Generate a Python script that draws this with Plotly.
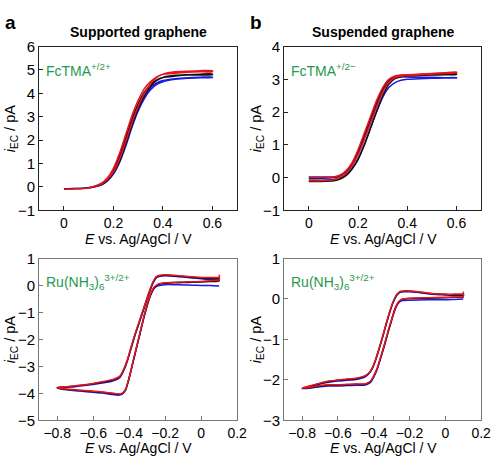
import plotly.graph_objects as go

# ---------------- data ----------------
# Panel a (top): supported graphene, FcTMA
E_a = [0, 0.05, 0.1, 0.15, 0.175, 0.2, 0.225, 0.25, 0.275, 0.3, 0.325, 0.35, 0.375, 0.4, 0.45, 0.5, 0.55, 0.6]
a_red_fwd = [-0.1, -0.08, -0.05, 0.12, 0.32, 0.65, 1.2, 1.95, 2.75, 3.45, 4.0, 4.4, 4.68, 4.82, 4.92, 4.95, 4.97, 4.97]
a_red_rev = [4.93, 4.92, 4.9, 4.86, 4.82, 4.7, 4.5, 4.2, 3.7, 3.05, 2.25, 1.45, 0.8, 0.38, 0.15, -0.04, -0.08, -0.1]
a_blk_fwd = [-0.08, -0.07, -0.04, 0.1, 0.28, 0.6, 1.1, 1.85, 2.65, 3.35, 3.9, 4.3, 4.55, 4.68, 4.77, 4.8, 4.82, 4.83]
a_blk_rev = [4.8, 4.79, 4.78, 4.74, 4.68, 4.58, 4.38, 4.05, 3.55, 2.9, 2.1, 1.35, 0.72, 0.33, 0.12, -0.03, -0.07, -0.08]
a_blu_fwd = [-0.08, -0.07, -0.04, 0.08, 0.25, 0.55, 1.05, 1.75, 2.55, 3.25, 3.78, 4.15, 4.38, 4.5, 4.6, 4.65, 4.67, 4.68]
a_blu_rev = [4.7, 4.69, 4.67, 4.63, 4.55, 4.45, 4.25, 3.9, 3.4, 2.75, 2.0, 1.25, 0.65, 0.3, 0.1, -0.03, -0.07, -0.08]

# Panel b (top): suspended graphene, FcTMA
E_b = [0, 0.05, 0.1, 0.125, 0.15, 0.175, 0.2, 0.225, 0.25, 0.275, 0.3, 0.325, 0.35, 0.375, 0.4, 0.45, 0.5, 0.55, 0.6]
b_red_fwd = [-0.1, -0.1, -0.07, 0.0, 0.12, 0.35, 0.7, 1.15, 1.65, 2.15, 2.6, 2.9, 3.05, 3.1, 3.12, 3.14, 3.16, 3.18, 3.2]
b_red_rev = [3.22, 3.2, 3.18, 3.16, 3.14, 3.13, 3.1, 3.0, 2.75, 2.35, 1.85, 1.35, 0.85, 0.45, 0.2, 0.07, 0.02, 0.0, 0.0]
b_blk_fwd = [-0.12, -0.12, -0.1, -0.05, 0.05, 0.25, 0.55, 0.98, 1.5, 2.02, 2.5, 2.85, 3.02, 3.08, 3.1, 3.12, 3.13, 3.14, 3.15]
b_blk_rev = [3.17, 3.16, 3.15, 3.14, 3.13, 3.12, 3.08, 2.97, 2.7, 2.28, 1.78, 1.28, 0.8, 0.42, 0.18, 0.05, 0.0, -0.02, -0.03]
b_blu_fwd = [-0.08, -0.08, -0.06, -0.02, 0.08, 0.28, 0.58, 1.0, 1.5, 2.0, 2.45, 2.75, 2.9, 2.97, 3.0, 3.02, 3.03, 3.04, 3.04]
b_blu_rev = [3.05, 3.05, 3.06, 3.06, 3.07, 3.08, 3.05, 2.95, 2.65, 2.2, 1.7, 1.2, 0.75, 0.4, 0.18, 0.06, 0.02, 0.02, 0.02]

# Panel a (bottom): supported graphene, Ru(NH3)6 -- closed CV loops
c_red_E = [0.1, 0.05, 0.0, -0.05, -0.1, -0.15, -0.2, -0.23, -0.25, -0.27, -0.29, -0.31, -0.33, -0.35, -0.37, -0.39, -0.41, -0.43, -0.45, -0.48, -0.5,
           -0.55, -0.6, -0.65, -0.7, -0.75, -0.8,
           -0.75, -0.7, -0.65, -0.6, -0.55, -0.5, -0.46, -0.44, -0.42, -0.40, -0.38, -0.36, -0.34, -0.32, -0.30, -0.28, -0.26, -0.24, -0.2,
           -0.15, -0.1, -0.05, 0.0, 0.05, 0.1, 0.1]
c_red_I = [0.3, 0.3, 0.3, 0.32, 0.35, 0.38, 0.4, 0.38, 0.32, 0.1, -0.25, -0.65, -1.05, -1.45, -1.85, -2.3, -2.75, -3.1, -3.35, -3.46, -3.5,
           -3.57, -3.63, -3.68, -3.72, -3.75, -3.78,
           -3.84, -3.87, -3.89, -3.92, -3.95, -3.99, -4.02, -4.0, -3.85, -3.4, -2.85, -2.3, -1.75, -1.2, -0.7, -0.3, -0.05, 0.05, 0.1,
           0.12, 0.13, 0.14, 0.15, 0.18, 0.2, 0.4]
c_blk_E = c_red_E
c_blk_I = [0.25, 0.26, 0.27, 0.3, 0.33, 0.36, 0.38, 0.36, 0.3, 0.08, -0.27, -0.67, -1.07, -1.47, -1.87, -2.32, -2.77, -3.12, -3.37, -3.48, -3.52,
           -3.59, -3.64, -3.69, -3.73, -3.76, -3.79,
           -3.85, -3.88, -3.9, -3.93, -3.96, -4.0, -4.03, -4.01, -3.86, -3.42, -2.87, -2.32, -1.77, -1.22, -0.72, -0.32, -0.07, 0.03, 0.08,
           0.1, 0.11, 0.12, 0.13, 0.15, 0.17, 0.3]
c_blu_E = c_red_E
c_blu_I = [0.2, 0.22, 0.25, 0.28, 0.31, 0.34, 0.36, 0.34, 0.28, 0.05, -0.3, -0.7, -1.1, -1.5, -1.9, -2.35, -2.8, -3.15, -3.4, -3.52, -3.56,
           -3.62, -3.67, -3.71, -3.75, -3.77, -3.8,
           -3.87, -3.9, -3.93, -3.96, -3.99, -4.04, -4.07, -4.04, -3.88, -3.44, -2.89, -2.34, -1.79, -1.24, -0.75, -0.35, -0.1, -0.01, 0.03,
           0.03, 0.02, 0.01, 0.0, 0.0, -0.02, -0.02]

# Panel b (bottom): suspended graphene, Ru(NH3)6 -- closed CV loops
d_red_E = [0.1, 0.05, 0.0, -0.05, -0.1, -0.15, -0.2, -0.23, -0.25, -0.27, -0.29, -0.31, -0.33, -0.35, -0.37, -0.39, -0.41, -0.43, -0.45, -0.5,
           -0.55, -0.6, -0.65, -0.7, -0.75, -0.8,
           -0.75, -0.7, -0.65, -0.6, -0.55, -0.5, -0.45, -0.42, -0.40, -0.38, -0.36, -0.34, -0.32, -0.30, -0.28, -0.26, -0.24, -0.2,
           -0.1, 0.0, 0.05, 0.1, 0.1]
d_red_I = [0.12, 0.12, 0.12, 0.13, 0.15, 0.18, 0.2, 0.2, 0.19, 0.12, -0.05, -0.3, -0.6, -0.92, -1.22, -1.5, -1.72, -1.84, -1.9, -1.96,
           -1.98, -2.0, -2.03, -2.08, -2.14, -2.2,
           -2.18, -2.14, -2.12, -2.12, -2.11, -2.1, -2.1, -2.04, -1.9, -1.7, -1.42, -1.12, -0.8, -0.5, -0.22, -0.06, 0.0, 0.02,
           0.03, 0.04, 0.05, 0.06, 0.18]
d_blk_E = d_red_E
d_blk_I = [0.1, 0.1, 0.11, 0.12, 0.14, 0.17, 0.19, 0.19, 0.18, 0.11, -0.06, -0.31, -0.61, -0.93, -1.23, -1.51, -1.73, -1.85, -1.91, -1.97,
           -1.99, -2.01, -2.04, -2.09, -2.15, -2.21,
           -2.19, -2.15, -2.13, -2.13, -2.12, -2.11, -2.11, -2.05, -1.91, -1.71, -1.43, -1.13, -0.81, -0.51, -0.23, -0.07, -0.01, 0.01,
           0.02, 0.03, 0.04, 0.05, 0.12]
d_blu_E = d_red_E
d_blu_I = [0.09, 0.09, 0.1, 0.11, 0.13, 0.16, 0.18, 0.18, 0.17, 0.1, -0.07, -0.32, -0.62, -0.94, -1.24, -1.52, -1.74, -1.86, -1.93, -1.99,
           -2.01, -2.03, -2.06, -2.1, -2.16, -2.22,
           -2.2, -2.17, -2.15, -2.15, -2.14, -2.13, -2.13, -2.07, -1.93, -1.73, -1.45, -1.15, -0.83, -0.53, -0.25, -0.09, -0.04, -0.03,
           -0.02, -0.02, -0.01, 0.0, 0.0]

# ---------------- figure ----------------
BLUE = "#1a1ae0"
BLACK = "#111111"
RED = "#e8141c"
GREEN = "#1f9a4c"
FONT = "Liberation Sans, Arial, sans-serif"

fig = go.Figure()

def add(x, y, color, xa, ya):
    fig.add_trace(go.Scatter(x=x, y=y, mode="lines", line=dict(color=color, width=1.5, shape="spline", smoothing=0.6),
                             xaxis=xa, yaxis=ya, showlegend=False, hoverinfo="skip"))

# panel a top
add(E_a + E_a[::-1], a_blu_fwd + a_blu_rev, BLUE, "x", "y")
add(E_a + E_a[::-1], a_blk_fwd + a_blk_rev, BLACK, "x", "y")
add(E_a + E_a[::-1], a_red_fwd + a_red_rev, RED, "x", "y")
# panel b top
add(E_b + E_b[::-1], b_blu_fwd + b_blu_rev, BLUE, "x2", "y2")
add(E_b + E_b[::-1], b_blk_fwd + b_blk_rev, BLACK, "x2", "y2")
add(E_b + E_b[::-1], b_red_fwd + b_red_rev, RED, "x2", "y2")
# panel a bottom
add(c_blu_E, c_blu_I, BLUE, "x3", "y3")
add(c_blk_E, c_blk_I, BLACK, "x3", "y3")
add(c_red_E, c_red_I, RED, "x3", "y3")
# panel b bottom
add(d_blu_E, d_blu_I, BLUE, "x4", "y4")
add(d_blk_E, d_blk_I, BLACK, "x4", "y4")
add(d_red_E, d_red_I, RED, "x4", "y4")

W, H = 500, 464
xl = [40 / W, 242 / W]
xr = [290 / W, 491 / W]
yt = [1 - 209 / H, 1 - 39 / H]
yb = [1 - 427 / H, 1 - 259 / H]

def ax(domain, anchor, rng, dtick, linecolor, fs=15, **kw):
    return dict(domain=domain, anchor=anchor, range=rng, dtick=dtick, tick0=0,
                showgrid=False, zeroline=False, showline=True, mirror=True,
                linecolor=linecolor, linewidth=1, ticks="inside", ticklen=4,
                tickcolor=linecolor, tickfont=dict(family=FONT, size=fs, color="black"), **kw)

fig.update_layout(
    width=W, height=H, margin=dict(l=0, r=0, t=0, b=0),
    paper_bgcolor="white", plot_bgcolor="white",
    xaxis=ax(xl, "y", [-0.1, 0.7], 0.2, "#222222", fs=14),
    yaxis=ax(yt, "x", [-1, 6], 1, "#222222"),
    xaxis2=ax(xr, "y2", [-0.1, 0.7], 0.2, "#222222", fs=14),
    yaxis2=ax(yt, "x2", [-1, 4], 1, "#222222"),
    xaxis3=ax(xl, "y3", [-0.9, 0.2], 0.2, "#777777", fs=14),
    yaxis3=ax(yb, "x3", [-5, 1], 1, "#777777"),
    xaxis4=ax(xr, "y4", [-0.9, 0.2], 0.2, "#777777", fs=14),
    yaxis4=ax(yb, "x4", [-3, 1], 1, "#777777"),
)

ann = []
def txt(x, y, text, size=14.5, color="black", angle=0, xanchor="center", yanchor="middle"):
    ann.append(dict(x=x / W, y=1 - y / H, xref="paper", yref="paper", text=text, showarrow=False,
                    font=dict(family=FONT, size=size, color=color), textangle=angle,
                    xanchor=xanchor, yanchor=yanchor))

txt(11, 14, "<b>a</b>", size=19)
txt(261, 14, "<b>b</b>", size=19)
txt(141, 24, "<b>Supported graphene</b>", size=14)
txt(391, 24, "<b>Suspended graphene</b>", size=14)

xt = "<i>E</i> vs. Ag/AgCl / V"
yt_txt = "<i>i</i><sub>EC</sub> / pA"
txt(141, 239, xt, size=14)
txt(391, 239, xt, size=14)
txt(141, 456, xt, size=14)
txt(391, 456, xt, size=14)
txt(12, 124, yt_txt, angle=-90)
txt(263, 124, yt_txt, angle=-90)
txt(12, 343, yt_txt, angle=-90)
txt(263, 343, yt_txt, angle=-90)

txt(45, 63, "FcTMA<sup>+/2+</sup>", size=14, color=GREEN, xanchor="left")
txt(295, 63, "FcTMA<sup>+/2\u2212</sup>", size=14, color=GREEN, xanchor="left")
txt(45, 283, "Ru(NH<sub>3</sub>)<sub>6</sub><sup>3+/2+</sup>", size=14, color=GREEN, xanchor="left")
txt(295, 283, "Ru(NH<sub>3</sub>)<sub>6</sub><sup>3+/2+</sup>", size=14, color=GREEN, xanchor="left")

fig.update_layout(annotations=ann)
fig.write_html("out.html")
